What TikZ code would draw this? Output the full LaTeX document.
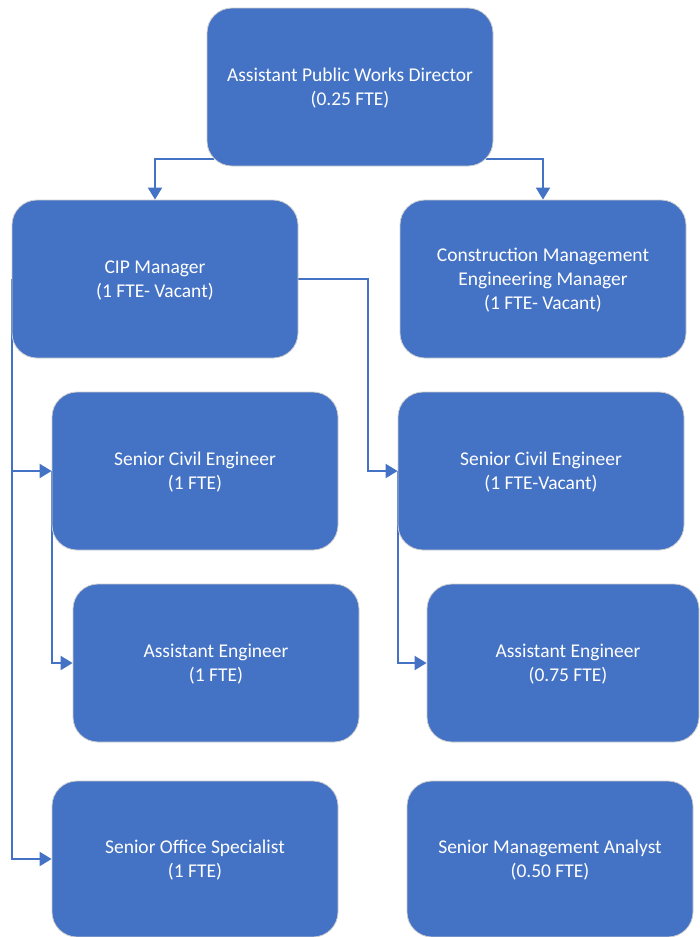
\documentclass[tikz,border=0pt]{standalone}
\usepackage{fontspec}
\setmainfont{Carlito}
\usetikzlibrary{arrows.meta,backgrounds}
\definecolor{boxblue}{RGB}{68,114,196}
\definecolor{edgegray}{RGB}{205,205,205}
\begin{document}
\begin{tikzpicture}[x=1pt,y=-1pt,
	post/.style={rectangle,rounded corners=25pt,fill=boxblue,draw=edgegray,line width=.8pt,
		minimum width=286pt,minimum height=158pt,text=white,align=center,
		font=\fontsize{19.5}{24}\selectfont,inner sep=0pt,text depth=-8pt},
	link/.style={draw=boxblue,line width=2pt,-{Triangle[length=12pt,width=14pt]}}]
	\useasboundingbox (0,0) rectangle (700,937);
	\node[post] (apwd) at (350,87) {Assistant Public Works Director\\(0.25 FTE)};
	\node[post] (cip) at (155,279) {CIP Manager\\(1 FTE- Vacant)};
	\node[post] (cmem) at (543,279) {Construction Management\\Engineering Manager\\(1 FTE- Vacant)};
	\node[post] (sceA) at (195,471) {Senior Civil Engineer\\(1 FTE)};
	\node[post] (sceB) at (541,471) {Senior Civil Engineer\\(1 FTE-Vacant)};
	\node[post] (aeA) at (216,663) {Assistant Engineer\\(1 FTE)};
	\node[post,minimum width=272pt] (aeB) at (563,663) {\hspace*{10pt}Assistant Engineer\\\hspace*{10pt}(0.75 FTE)};
	\node[post,minimum height=156pt] (sos) at (195,859) {Senior Office Specialist\\(1 FTE)};
	\node[post,minimum height=156pt] (sma) at (550,859) {Senior Management Analyst\\(0.50 FTE)};
	\coordinate (apwdL) at (214,159); % ends of the top line
	\coordinate (apwdR) at (486,159);
	\begin{scope}[on background layer]
		\draw[link] (apwdL) -| (cip.north);
		\draw[link] (apwdR) -| (cmem.north);
		\draw[link] (cip.east) -| (368,471) -- (sceB.west);
		\draw[link] (cip.west) |- (sos.west);
		\draw[link] (cip.west |- sceA.west) -- (sceA.west);
		\draw[link] (sceA.west) |- (aeA.west);
		\draw[link] (sceB.west) |- (aeB.west);
	\end{scope}
\end{tikzpicture}
\end{document}
